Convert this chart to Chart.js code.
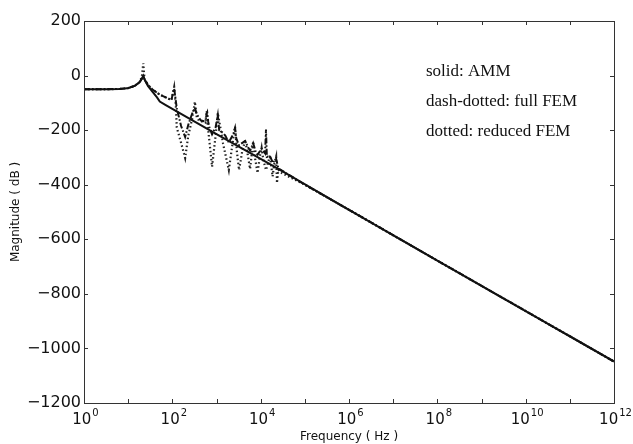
<!DOCTYPE html>
<html>
<head>
<meta charset="utf-8">
<script src="https://cdn.jsdelivr.net/npm/chart.js@4"></script>
<style>
  body { margin: 0; background: #fff; }
  #wrap { width: 633px; height: 444px; }
</style>
</head>
<body>
<div id="wrap"><canvas id="bode" width="633" height="444"></canvas></div>
<script>
// frequency response, values (Hz / dB)
const ammFreq = [1, 3.2, 6.3, 10, 14, 18, 20.4, 22, 23.4, 28, 35, 45, 52, 71, 100, 1000, 10000, 25100, 1e6, 1e8, 1e10, 1e12]
const ammDb = [-50, -50, -49, -46, -38, -25, -12, -1, -14, -38, -58, -80, -95, -108, -122, -215, -305, -342, -492, -678, -863, -1048]

const fullFreq = [1, 3.2, 6.3, 10, 14, 18, 20.4, 22, 23.4, 28, 35, 45, 52, 71, 95, 105, 110, 116, 126, 158, 195, 230, 280, 324, 355, 400, 447, 562, 600, 617, 650, 690, 794, 955, 1070, 1150, 1410, 1580, 1900, 2400, 2630, 2800, 3240, 3550, 4470, 5250, 5750, 6760, 7940, 8510, 10500, 12600, 13200, 13800, 16200, 19000, 22400, 25100, 1e5, 1e6, 1e8, 1e10, 1e12]
const fullDb = [-50, -50, -49, -46, -38, -25, -12, -1, -14, -34, -50, -63, -70, -80, -90, -60, -48, -75, -120, -185, -225, -180, -140, -118, -140, -155, -165, -168, -140, -135, -170, -190, -215, -190, -145, -200, -210, -220, -245, -215, -192, -230, -255, -250, -240, -265, -275, -248, -285, -290, -268, -285, -198, -298, -295, -320, -305, -340, -400, -492, -678, -863, -1048]

const redFreq = [1, 3.2, 6.3, 10, 14, 18, 20.4, 22, 23.4, 28, 35, 45, 52, 71, 95, 110, 120, 126, 160, 195, 230, 280, 324, 355, 400, 562, 600, 650, 794, 955, 1070, 1250, 1410, 1900, 2400, 2630, 2900, 3240, 3800, 4470, 5100, 5750, 6760, 7400, 8510, 9500, 10500, 11500, 13200, 15000, 16200, 18600, 20500, 22400, 23400, 25100, 28200, 1e5, 1e6, 1e8, 1e10, 1e12]
const redDb = [-50, -50, -49, -46, -38, -25, -5, 45, -12, -34, -50, -63, -70, -80, -90, -42, -110, -190, -250, -302, -220, -160, -96, -150, -165, -172, -130, -200, -334, -220, -137, -200, -250, -346, -230, -187, -280, -346, -280, -236, -290, -342, -242, -300, -357, -300, -265, -310, -346, -315, -291, -370, -320, -297, -394, -345, -355, -400, -492, -678, -863, -1048]

const xExponents = [0, 1, 2, 3, 4, 5, 6, 7, 8, 9, 10, 11, 12]
const xLabelExp = [0, 2, 4, 6, 8, 10, 12]
const yTicks = [-1200, -1000, -800, -600, -400, -200, 0, 200]
const notes = ['solid: AMM', 'dash-dotted: full FEM', 'dotted: reduced FEM']

function toPts(f, d) { return f.map((v, i) => ({ x: v, y: d[i] })) }

// box, inward tick marks, 10^n labels and the note text
const frame = {
  id: 'frame',
  afterDraw(chart) {
    const { ctx, chartArea: a, scales: { x, y } } = chart
    ctx.save()
    ctx.strokeStyle = '#333'
    ctx.lineWidth = 1
    ctx.strokeRect(a.left + 0.5, a.top + 0.5, a.right - a.left, a.bottom - a.top)
    ctx.beginPath()
    xExponents.forEach(e => {
      const px = Math.round(x.getPixelForValue(Math.pow(10, e))) + 0.5
      ctx.moveTo(px, a.bottom); ctx.lineTo(px, a.bottom - 4)
      ctx.moveTo(px, a.top); ctx.lineTo(px, a.top + 4)
    })
    yTicks.forEach(v => {
      const py = Math.round(y.getPixelForValue(v)) + 0.5
      ctx.moveTo(a.left, py); ctx.lineTo(a.left + 4, py)
      ctx.moveTo(a.right, py); ctx.lineTo(a.right - 4, py)
    })
    ctx.stroke()

    ctx.fillStyle = '#111'
    ctx.textBaseline = 'alphabetic'
    ctx.textAlign = 'left'
    const big = '15px "DejaVu Sans", sans-serif'
    const small = '10px "DejaVu Sans", sans-serif'
    xLabelExp.forEach(e => {
      const px = x.getPixelForValue(Math.pow(10, e))
      ctx.font = big
      const w1 = ctx.measureText('10').width
      ctx.font = small
      const w2 = ctx.measureText(String(e)).width
      const x0 = px - (w1 + w2) / 2 + 1
      ctx.font = big
      ctx.fillText('10', x0, a.bottom + 21)
      ctx.font = small
      ctx.fillText(String(e), x0 + w1 + 1, a.bottom + 13)
    })

    ctx.font = '17px "Liberation Serif", serif'
    notes.forEach((t, i) => ctx.fillText(t, 426, 76 + i * 30))
    ctx.restore()
  }
}

new Chart(document.getElementById('bode'), {
  type: 'line',
  data: {
    datasets: [
      { label: 'AMM', data: toPts(ammFreq, ammDb), borderColor: '#111', borderWidth: 2, pointRadius: 0, fill: false },
      { label: 'full FEM', data: toPts(fullFreq, fullDb), borderColor: '#111', borderWidth: 2, borderDash: [6, 2, 1.5, 2], pointRadius: 0, fill: false },
      { label: 'reduced FEM', data: toPts(redFreq, redDb), borderColor: '#222', borderWidth: 2.2, borderDash: [1.5, 2.5], pointRadius: 0, fill: false }
    ]
  },
  options: {
    responsive: false,
    animation: false,
    layout: { padding: { left: 0, right: 19, top: 21, bottom: 0 } },
    plugins: { legend: { display: false }, tooltip: { enabled: false } },
    scales: {
      x: {
        type: 'logarithmic',
        min: 1,
        max: 1e12,
        afterBuildTicks: s => { s.ticks = xExponents.map(e => ({ value: Math.pow(10, e) })) },
        afterFit: s => { s.height = 41 },
        grid: { display: false, drawTicks: false },
        border: { display: false },
        ticks: { display: false },
        title: {
          display: true,
          text: 'Frequency ( Hz )',
          color: '#111',
          padding: { top: 0, bottom: 0 },
          font: { family: 'DejaVu Sans, sans-serif', size: 12 }
        }
      },
      y: {
        min: -1200,
        max: 200,
        afterBuildTicks: s => { s.ticks = yTicks.map(v => ({ value: v })) },
        afterFit: s => { s.width = 84 },
        grid: { display: false, drawTicks: false },
        border: { display: false },
        ticks: {
          padding: 3,
          color: '#111',
          font: { family: 'DejaVu Sans, sans-serif', size: 16 },
          callback: v => String(v).replace('-', '\u2212')
        },
        title: {
          display: true,
          text: 'Magnitude ( dB )',
          color: '#111',
          padding: { top: 9, bottom: 0 },
          font: { family: 'DejaVu Sans, sans-serif', size: 12 }
        }
      }
    }
  },
  plugins: [frame]
})
</script>
</body>
</html>
